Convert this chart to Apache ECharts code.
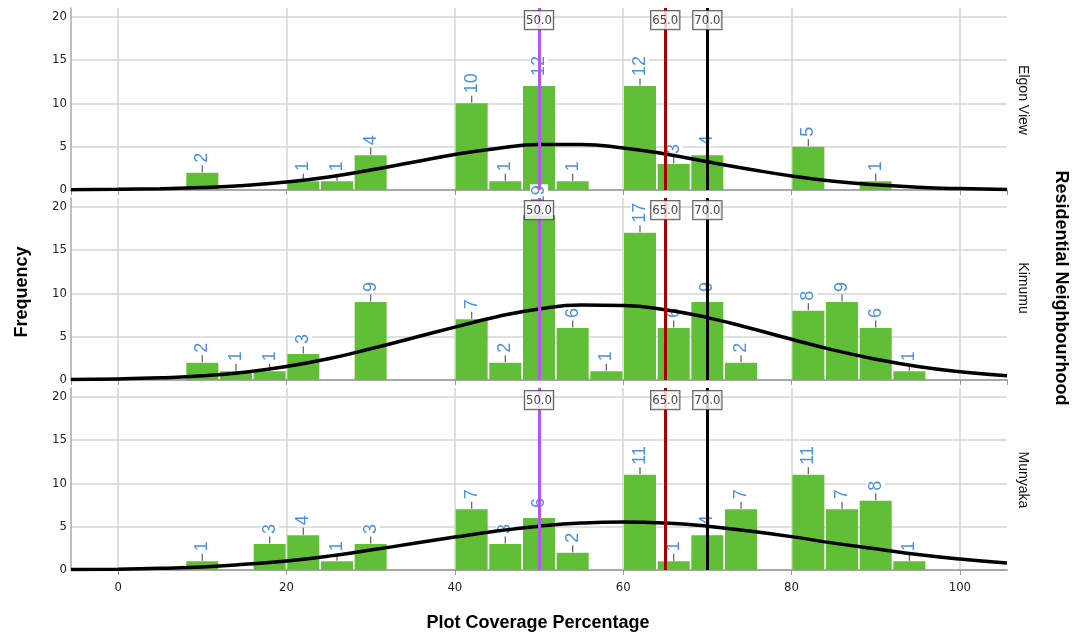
<!DOCTYPE html>
<html><head><meta charset="utf-8">
<script src="https://cdn.jsdelivr.net/npm/echarts@6/dist/echarts.min.js"></script>
<style>html,body{margin:0;padding:0;background:#fff}#c{width:1077px;height:637px}</style>
</head><body><div id="c"></div>
<script>
// ---- data ----
const panelNames = ['Elgon View', 'Kimumu', 'Munyaka'];

const elgonBins   = [10, 22, 26, 30, 42, 46, 50, 54, 62, 66, 70, 82, 90];
const elgonCounts = [2, 1, 1, 4, 10, 1, 12, 1, 12, 3, 4, 5, 1];

const kimumuBins   = [10, 14, 18, 22, 30, 42, 46, 50, 54, 58, 62, 66, 70, 74, 82, 86, 90, 94];
const kimumuCounts = [2, 1, 1, 3, 9, 7, 2, 19, 6, 1, 17, 6, 9, 2, 8, 9, 6, 1];

const munyakaBins   = [10, 18, 22, 26, 30, 42, 46, 50, 54, 62, 66, 70, 74, 82, 86, 90, 94];
const munyakaCounts = [1, 3, 4, 1, 3, 7, 3, 6, 2, 11, 1, 4, 7, 11, 7, 8, 1];

// normal curve heights
const curveX       = [-5.6, 0, 5, 10, 15, 20, 25, 30, 35, 40, 45, 50, 55, 60, 65, 70, 75, 80, 85, 90, 95, 100, 105.6];
const elgonCurve   = [0.04, 0.08, 0.15, 0.28, 0.52, 0.92, 1.5, 2.3, 3.2, 4.1, 4.8, 5.25, 5.25, 4.85, 4.15, 3.25, 2.4, 1.62, 1.0, 0.6, 0.32, 0.16, 0.06];
const kimumuCurve  = [0.06, 0.12, 0.25, 0.48, 0.9, 1.55, 2.45, 3.6, 4.85, 6.1, 7.3, 8.2, 8.65, 8.6, 8.1, 7.2, 6.0, 4.7, 3.45, 2.4, 1.55, 0.95, 0.5];
const munyakaCurve = [0.05, 0.1, 0.2, 0.35, 0.65, 1.05, 1.6, 2.3, 3.05, 3.8, 4.5, 5.05, 5.42, 5.55, 5.42, 5.05, 4.5, 3.85, 3.1, 2.45, 1.8, 1.27, 0.8];

const refValues = [50, 65, 70];
const refLabelY = 19.6;

const panels = [
  { bins: elgonBins, counts: elgonCounts, curve: elgonCurve },
  { bins: kimumuBins, counts: kimumuCounts, curve: kimumuCurve },
  { bins: munyakaBins, counts: munyakaCounts, curve: munyakaCurve }
];

// ---- styling ----
const refColors = ['#b257f0', '#a80000', '#000000'];
const gridTops = [8, 198, 388];
const gridH = 182;
const tickFont = '"Liberation Sans Narrow","DejaVu Sans Condensed","Liberation Sans",Arial,sans-serif';
const titleFont = '"Liberation Sans",Arial,sans-serif';

const chart = echarts.init(document.getElementById('c'), null, { renderer: 'canvas' });

const grids = [], xAxes = [], yAxes = [], series = [];
panels.forEach((p, i) => {
  grids.push({ left: 71, right: 70, top: gridTops[i], height: gridH });
  xAxes.push({
    gridIndex: i, type: 'value', min: -5.6, max: 105.6, splitNumber: 5,
    axisLine: { show: true, onZero: false, lineStyle: { color: '#a8a8a8', width: 2 } },
    axisTick: { show: true, length: 5, lineStyle: { color: '#999', width: 1 } },
    axisLabel: { show: i === 2, showMinLabel: false, showMaxLabel: false, fontSize: 13, color: '#222', margin: 11, fontFamily: tickFont },
    splitLine: { show: true, showMinLine: false, showMaxLine: false, lineStyle: { color: '#d5d5d5', width: 1.5 } }
  });
  yAxes.push({
    gridIndex: i, type: 'value', min: 0, max: 21, interval: 5,
    axisLine: { show: true, onZero: false, lineStyle: { color: '#a8a8a8', width: 1.5 } },
    axisTick: { show: false },
    axisLabel: { showMaxLabel: false, fontSize: 13, color: '#222', margin: 4, fontFamily: tickFont },
    splitLine: { show: true, showMaxLine: false, lineStyle: { color: '#d5d5d5', width: 1.5 } }
  });
  const barData = p.bins.map((b, j) => [b, p.counts[j]]);
  series.push({
    type: 'bar', xAxisIndex: i, yAxisIndex: i, data: barData, barWidth: 32, z: 2,
    itemStyle: { color: '#60bf36' },
    label: {
      show: true, position: 'top', distance: 9, rotate: 90, align: 'left', verticalAlign: 'middle',
      color: '#4b8fe3', fontSize: 18, fontFamily: titleFont, backgroundColor: '#fff', padding: [0, 1],
      formatter: q => String(q.value[1])
    }
  });
  series.push({
    type: 'scatter', xAxisIndex: i, yAxisIndex: i, data: barData, z: 3, silent: true,
    symbol: 'rect', symbolSize: [1.3, 7], symbolOffset: [0, -4],
    itemStyle: { color: '#444' }
  });
  series.push({
    type: 'line', xAxisIndex: i, yAxisIndex: i, z: 4, silent: true,
    data: curveX.map((x, j) => [x, p.curve[j]]),
    smooth: true, showSymbol: false, symbol: 'none',
    lineStyle: { color: '#000', width: 3.5 }
  });
  series.push({
    type: 'line', xAxisIndex: i, yAxisIndex: i, z: 5, data: [], silent: true,
    markLine: {
      symbol: 'none', silent: true, animation: false,
      label: { show: false },
      data: refValues.map((v, k) => ({ xAxis: v, lineStyle: { color: refColors[k], width: 3, type: 'solid' } }))
    }
  });
  series.push({
    type: 'scatter', xAxisIndex: i, yAxisIndex: i, z: 6, silent: true,
    data: refValues.map(v => [v, refLabelY]), symbolSize: 0,
    label: {
      show: true, position: 'inside', formatter: q => q.value[0].toFixed(1),
      fontSize: 13, color: '#111', fontFamily: tickFont,
      backgroundColor: '#fff', borderColor: '#444', borderWidth: 1.2, padding: [3, 1, 2, 1]
    }
  });
});

const graphics = [
  { type: 'text', x: 22, y: 292, rotation: Math.PI / 2,
    style: { text: 'Frequency', font: 'bold 18px ' + titleFont, fill: '#000', align: 'center', verticalAlign: 'middle' } },
  { type: 'text', x: 538, y: 623,
    style: { text: 'Plot Coverage Percentage', font: 'bold 18px ' + titleFont, fill: '#000', align: 'center', verticalAlign: 'middle' } },
  { type: 'text', x: 1061, y: 288, rotation: -Math.PI / 2,
    style: { text: 'Residential Neighbourhood', font: 'bold 18px ' + titleFont, fill: '#000', align: 'center', verticalAlign: 'middle' } }
];
const labelYs = [100, 288, 480];
panelNames.forEach((n, i) => {
  graphics.push({ type: 'text', x: 1023, y: labelYs[i], rotation: -Math.PI / 2,
    style: { text: n, font: '14px ' + titleFont, fill: '#111', align: 'center', verticalAlign: 'middle' } });
});

chart.setOption({
  animation: false,
  backgroundColor: '#fff',
  grid: grids, xAxis: xAxes, yAxis: yAxes, series: series,
  graphic: graphics
});
</script></body></html>
